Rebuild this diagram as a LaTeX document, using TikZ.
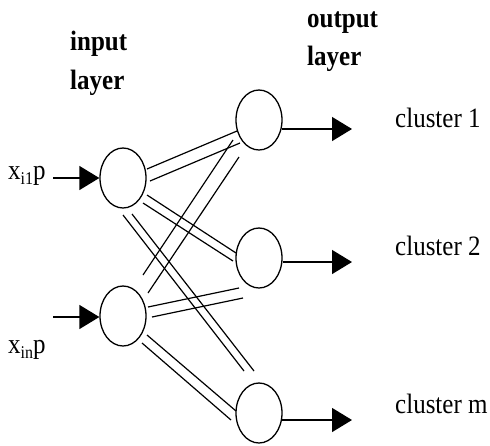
\documentclass[tikz,border=0pt]{standalone}
\usepackage{fontspec}
\usepackage{graphicx}
\setmainfont{Liberation Serif}
\usetikzlibrary{shapes.geometric,arrows.meta,calc}

% slightly tall lettering
\newcommand\tallbox[1]{\scalebox{1}[1.12]{#1}}
\newcommand\subidx[1]{\raisebox{-5pt}{\fontsize{16}{16}\selectfont #1}}

\begin{document}
\begin{tikzpicture}[x=1pt,y=-1pt,
  neuron/.style={draw, ellipse, line width=1.3pt, minimum width=46pt,
                 minimum height=60pt, inner sep=0pt},
  wire/.style={line width=1.2pt},
  feed/.style={line width=1.3pt, -{Triangle[length=20pt,width=24pt]}},
  caption/.style={anchor=base west, inner sep=0pt,
                  font=\fontsize{25}{30}\selectfont},
  heading/.style={caption, font=\fontsize{25}{30}\selectfont\bfseries}]
\useasboundingbox (0,0) rectangle (490,445);

% layer headings
\node[heading] (hin1)  at (70,50)  {\tallbox{input}};
\node[heading] (hin2)  at (70,89)  {\tallbox{layer}};
\node[heading] (hout1) at (307,27) {\tallbox{output}};
\node[heading] (hout2) at (307,65) {\tallbox{layer}};

% neurons
\node[neuron] (i1) at (123,178) {};
\node[neuron] (i2) at (123,316) {};
\node[neuron] (o1) at (259,120) {};
\node[neuron] (o2) at (259,258) {};
\node[neuron] (om) at (259,413) {};

% inputs
\node[caption] (xi1) at (8,179) {\tallbox{x\subidx{i1}p}};
\node[caption] (xin) at (8,353) {\tallbox{x\subidx{in}p}};
\coordinate (s1) at (53,178);
\coordinate (s2) at (53,317);
\draw[feed] (s1) -- (i1.west);
\draw[feed] (s2) -- ($(i2.west)+(0,1)$);

% paired weight lines
\draw[wire] ($(i1)+(24,-9)$) -- ($(o1)+(-22,11)$);
\draw[wire] ($(i1)+(27,3)$)  -- ($(o1)+(-19,23)$);
\draw[wire] ($(i1)+(24,17)$) -- ($(o2)+(-23,-5)$);
\draw[wire] ($(i1)+(20,25)$) -- ($(o2)+(-26,3)$);
\draw[wire] ($(i1)+(0,37)$)  -- ($(om)+(-15,-42)$);
\draw[wire] ($(i1)+(9,36)$)  -- ($(om)+(-5,-42)$);
\draw[wire] ($(i2)+(20,-41)$) -- ($(o1)+(-26,20)$);
\draw[wire] ($(i2)+(25,-23)$) -- ($(o1)+(-20,37)$);
\draw[wire] ($(i2)+(25,-9)$)  -- ($(o2)+(-20,30)$);
\draw[wire] ($(i2)+(29,1)$)   -- ($(o2)+(-16,40)$);
\draw[wire] ($(i2)+(24,19)$)  -- ($(om)+(-23,-2)$);
\draw[wire] ($(i2)+(19,27)$)  -- ($(om)+(-28,7)$);

% outputs
\coordinate (t1) at (352,129);
\coordinate (t2) at (352,262);
\coordinate (tm) at (352,420);
\draw[feed] ($(o1.east)+(-1,9)$) -- (t1);
\draw[feed] ($(o2.east)+(0,4)$)  -- (t2);
\draw[feed] ($(om.east)+(-1,7)$) -- (tm);
\node[caption] (c1) at (395,127) {\tallbox{cluster 1}};
\node[caption] (c2) at (395,255) {\tallbox{cluster 2}};
\node[caption] (cm) at (395,413) {\tallbox{cluster m}};
\end{tikzpicture}
\end{document}
